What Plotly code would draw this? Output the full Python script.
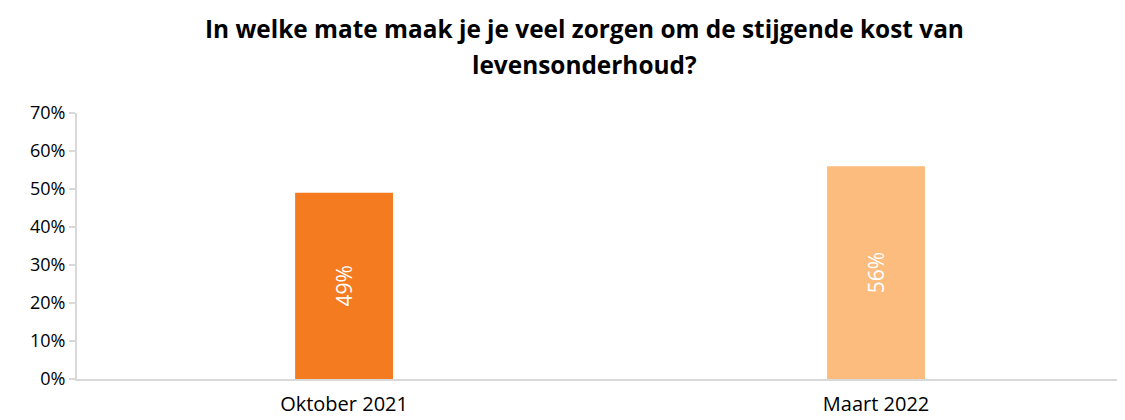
import plotly.graph_objects as go

categories = ["Oktober 2021", "Maart 2022"]
values = [0.49, 0.56]
labels = ["49%", "56%"]
colors = ["#F47B20", "#FBBC7E"]
y_ticks = [0, 0.1, 0.2, 0.3, 0.4, 0.5, 0.6, 0.7]
y_tick_text = ["0%", "10%", "20%", "30%", "40%", "50%", "60%", "70%"]
title_lines = ["In welke mate maak je je veel zorgen om de stijgende kost van", "levensonderhoud?"]

FONT = "Open Sans"

fig = go.Figure(
    go.Bar(
        x=categories,
        y=values,
        marker=dict(color=colors, line=dict(width=0)),
        width=0.184,
        text=labels,
        textposition="inside",
        insidetextanchor="middle",
        textangle=-90,
        textfont=dict(family=FONT, size=21, color="white"),
        hoverinfo="skip",
    )
)

plot_h = 412 - 105 - 41
annots = []
for i, (line, center_px) in enumerate(zip(title_lines, [28, 64])):
    annots.append(dict(
        text="<b>" + line + "</b>",
        xref="paper", yref="paper",
        x=0.4847, y=1 + (113 - center_px) / plot_h,
        xanchor="center", yanchor="middle",
        showarrow=False,
        font=dict(family=FONT, size=24.4, color="#000000"),
    ))

fig.update_layout(
    width=1117,
    height=412,
    margin=dict(l=69, r=0, t=105, b=41),
    paper_bgcolor="white",
    plot_bgcolor="white",
    showlegend=False,
    annotations=annots,
    font=dict(family=FONT, color="#000000"),
)

fig.update_xaxes(
    type="category",
    range=[-0.502, 1.468],
    showline=True,
    linecolor="#D9D9D9",
    linewidth=2,
    ticks="",
    showgrid=False,
    ticklabelstandoff=6,
    tickfont=dict(family=FONT, size=20, color="#000000"),
)

fig.update_yaxes(
    range=[0, 0.7],
    tickvals=y_ticks,
    ticktext=y_tick_text,
    showline=True,
    linecolor="#D9D9D9",
    linewidth=2,
    ticks="outside",
    ticklen=6,
    tickcolor="#D9D9D9",
    tickwidth=2,
    showgrid=False,
    zeroline=False,
    tickfont=dict(family=FONT, size=18, color="#000000"),
)

fig.write_html("out.html")
